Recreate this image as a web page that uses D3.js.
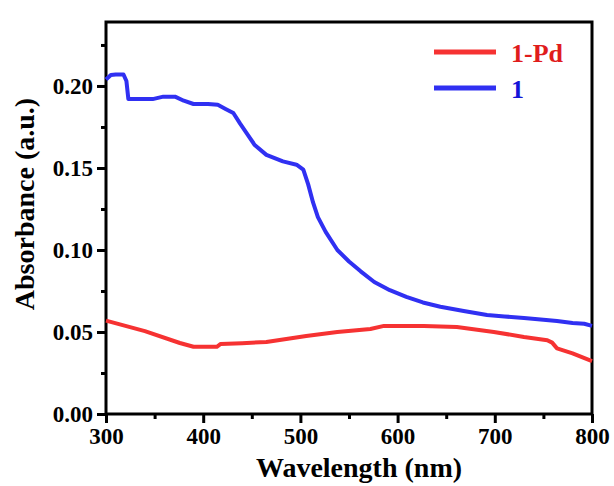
<!DOCTYPE html>
<html>
<head>
<meta charset="utf-8">
<script src="https://cdn.jsdelivr.net/npm/d3@7"></script>
<style>
  body { margin: 0; background: #fff; }
  svg text { font-family: "Liberation Serif", "Times New Roman", serif; font-weight: bold; }
</style>
</head>
<body>
<div id="chart"></div>
<script>
// series: wavelength (nm) / absorbance (a.u.)
let wlBlue = [300, 305, 310, 318, 321, 323, 335, 348, 359, 371, 380, 390, 405, 415, 423, 431, 438, 445, 453, 465, 482, 496, 503, 508, 513, 518, 526, 538, 550, 562, 576, 592, 609, 626, 644, 668, 692, 710, 730, 750, 764, 780, 792, 800];
let absBlue = [0.204, 0.2067, 0.207, 0.207, 0.203, 0.192, 0.192, 0.192, 0.1935, 0.1935, 0.191, 0.189, 0.189, 0.1885, 0.186, 0.1835, 0.177, 0.171, 0.164, 0.158, 0.154, 0.152, 0.149, 0.14, 0.129, 0.12, 0.111, 0.100, 0.093, 0.087, 0.0805, 0.0755, 0.0714, 0.068, 0.0654, 0.0628, 0.0604, 0.0595, 0.0585, 0.0575, 0.0567, 0.0555, 0.055, 0.0537];

let wlRed = [300, 340, 376, 390, 414, 418, 440, 465, 506, 538, 572, 586, 627, 661, 699, 730, 754, 759, 764, 780, 800];
let absRed = [0.0569, 0.0505, 0.0433, 0.041, 0.041, 0.0427, 0.0432, 0.0439, 0.0476, 0.050, 0.0518, 0.0537, 0.0537, 0.053, 0.050, 0.047, 0.045, 0.0435, 0.040, 0.037, 0.0323];

let seriesNames = ['1-Pd', '1'];
let xTicks = [300, 400, 500, 600, 700, 800];
let yTicks = [0.00, 0.05, 0.10, 0.15, 0.20];

let width = 614,
    height = 486,
    margin = {left: 106, top: 22, right: 22, bottom: 72},
    clipWidth = width - margin.left - margin.right,
    clipHeight = height - margin.top - margin.bottom;

let svg = d3.select('#chart').append('svg')
    .attr('width', width)
    .attr('height', height)
    .append('g')
    .attr('transform', `translate(${margin.left}, ${margin.top})`);

let xScale = d3.scaleLinear()
    .domain([300, 800])
    .range([0, clipWidth]);

let yScale = d3.scaleLinear()
    .domain([0, 0.239])
    .range([clipHeight, 0]);

// minor ticks first, majors on top
svg.append('g')
    .attr('class', 'x-minor')
    .attr('transform', `translate(0, ${clipHeight})`)
    .call(d3.axisBottom(xScale).tickValues(d3.range(350, 800, 100)).tickSize(5).tickFormat(''));

svg.append('g')
    .attr('class', 'y-minor')
    .call(d3.axisLeft(yScale).tickValues([0.025, 0.075, 0.125, 0.175, 0.225]).tickSize(5).tickFormat(''));

let xAxis = svg.append('g')
    .attr('class', 'x-axis')
    .attr('transform', `translate(0, ${clipHeight})`)
    .call(d3.axisBottom(xScale).tickValues(xTicks).tickSize(9).tickPadding(5).tickFormat(d3.format('d')));

let yAxis = svg.append('g')
    .attr('class', 'y-axis')
    .call(d3.axisLeft(yScale).tickValues(yTicks).tickSize(9).tickPadding(4).tickFormat(d3.format('.2f')));

svg.selectAll('.x-axis text, .y-axis text')
    .style('font-size', '23px')
    .attr('fill', '#000');

svg.selectAll('.tick line')
    .attr('stroke', '#000')
    .attr('stroke-width', 3);
svg.selectAll('.domain').remove();

// frame
svg.append('rect')
    .attr('width', clipWidth)
    .attr('height', clipHeight)
    .attr('fill', 'none')
    .attr('stroke', '#000')
    .attr('stroke-width', 3);

let line = d3.line()
    .x(d => xScale(d[0]))
    .y(d => yScale(d[1]));

svg.append('path')
    .datum(d3.zip(wlRed, absRed))
    .attr('fill', 'none')
    .attr('stroke', '#f63232')
    .attr('stroke-width', 4)
    .attr('stroke-linejoin', 'round')
    .attr('d', line);

svg.append('path')
    .datum(d3.zip(wlBlue, absBlue))
    .attr('fill', 'none')
    .attr('stroke', '#3030f2')
    .attr('stroke-width', 4)
    .attr('stroke-linejoin', 'round')
    .attr('d', line);

// legend
let legend = svg.append('g')
    .attr('transform', `translate(${328}, ${30})`);
let legendColors = ['#f63232', '#3030f2'];
let textColors = ['#e01c1c', '#1414d8'];
seriesNames.forEach((name, i) => {
    legend.append('line')
        .attr('x1', 0).attr('x2', 62)
        .attr('y1', i * 36).attr('y2', i * 36)
        .attr('stroke', legendColors[i])
        .attr('stroke-width', 5);
    legend.append('text')
        .attr('x', 77)
        .attr('y', i * 36 + 10)
        .attr('fill', textColors[i])
        .style('font-size', '26px')
        .text(name);
});

// axis titles
svg.append('text')
    .attr('x', clipWidth / 2 + 10)
    .attr('y', clipHeight + 63)
    .attr('text-anchor', 'middle')
    .style('font-size', '28px')
    .text('Wavelength (nm)');

svg.append('text')
    .attr('transform', `translate(${-72}, ${clipHeight / 2 - 14}) rotate(-90)`)
    .attr('text-anchor', 'middle')
    .style('font-size', '28px')
    .text('Absorbance (a.u.)');
</script>
</body>
</html>
